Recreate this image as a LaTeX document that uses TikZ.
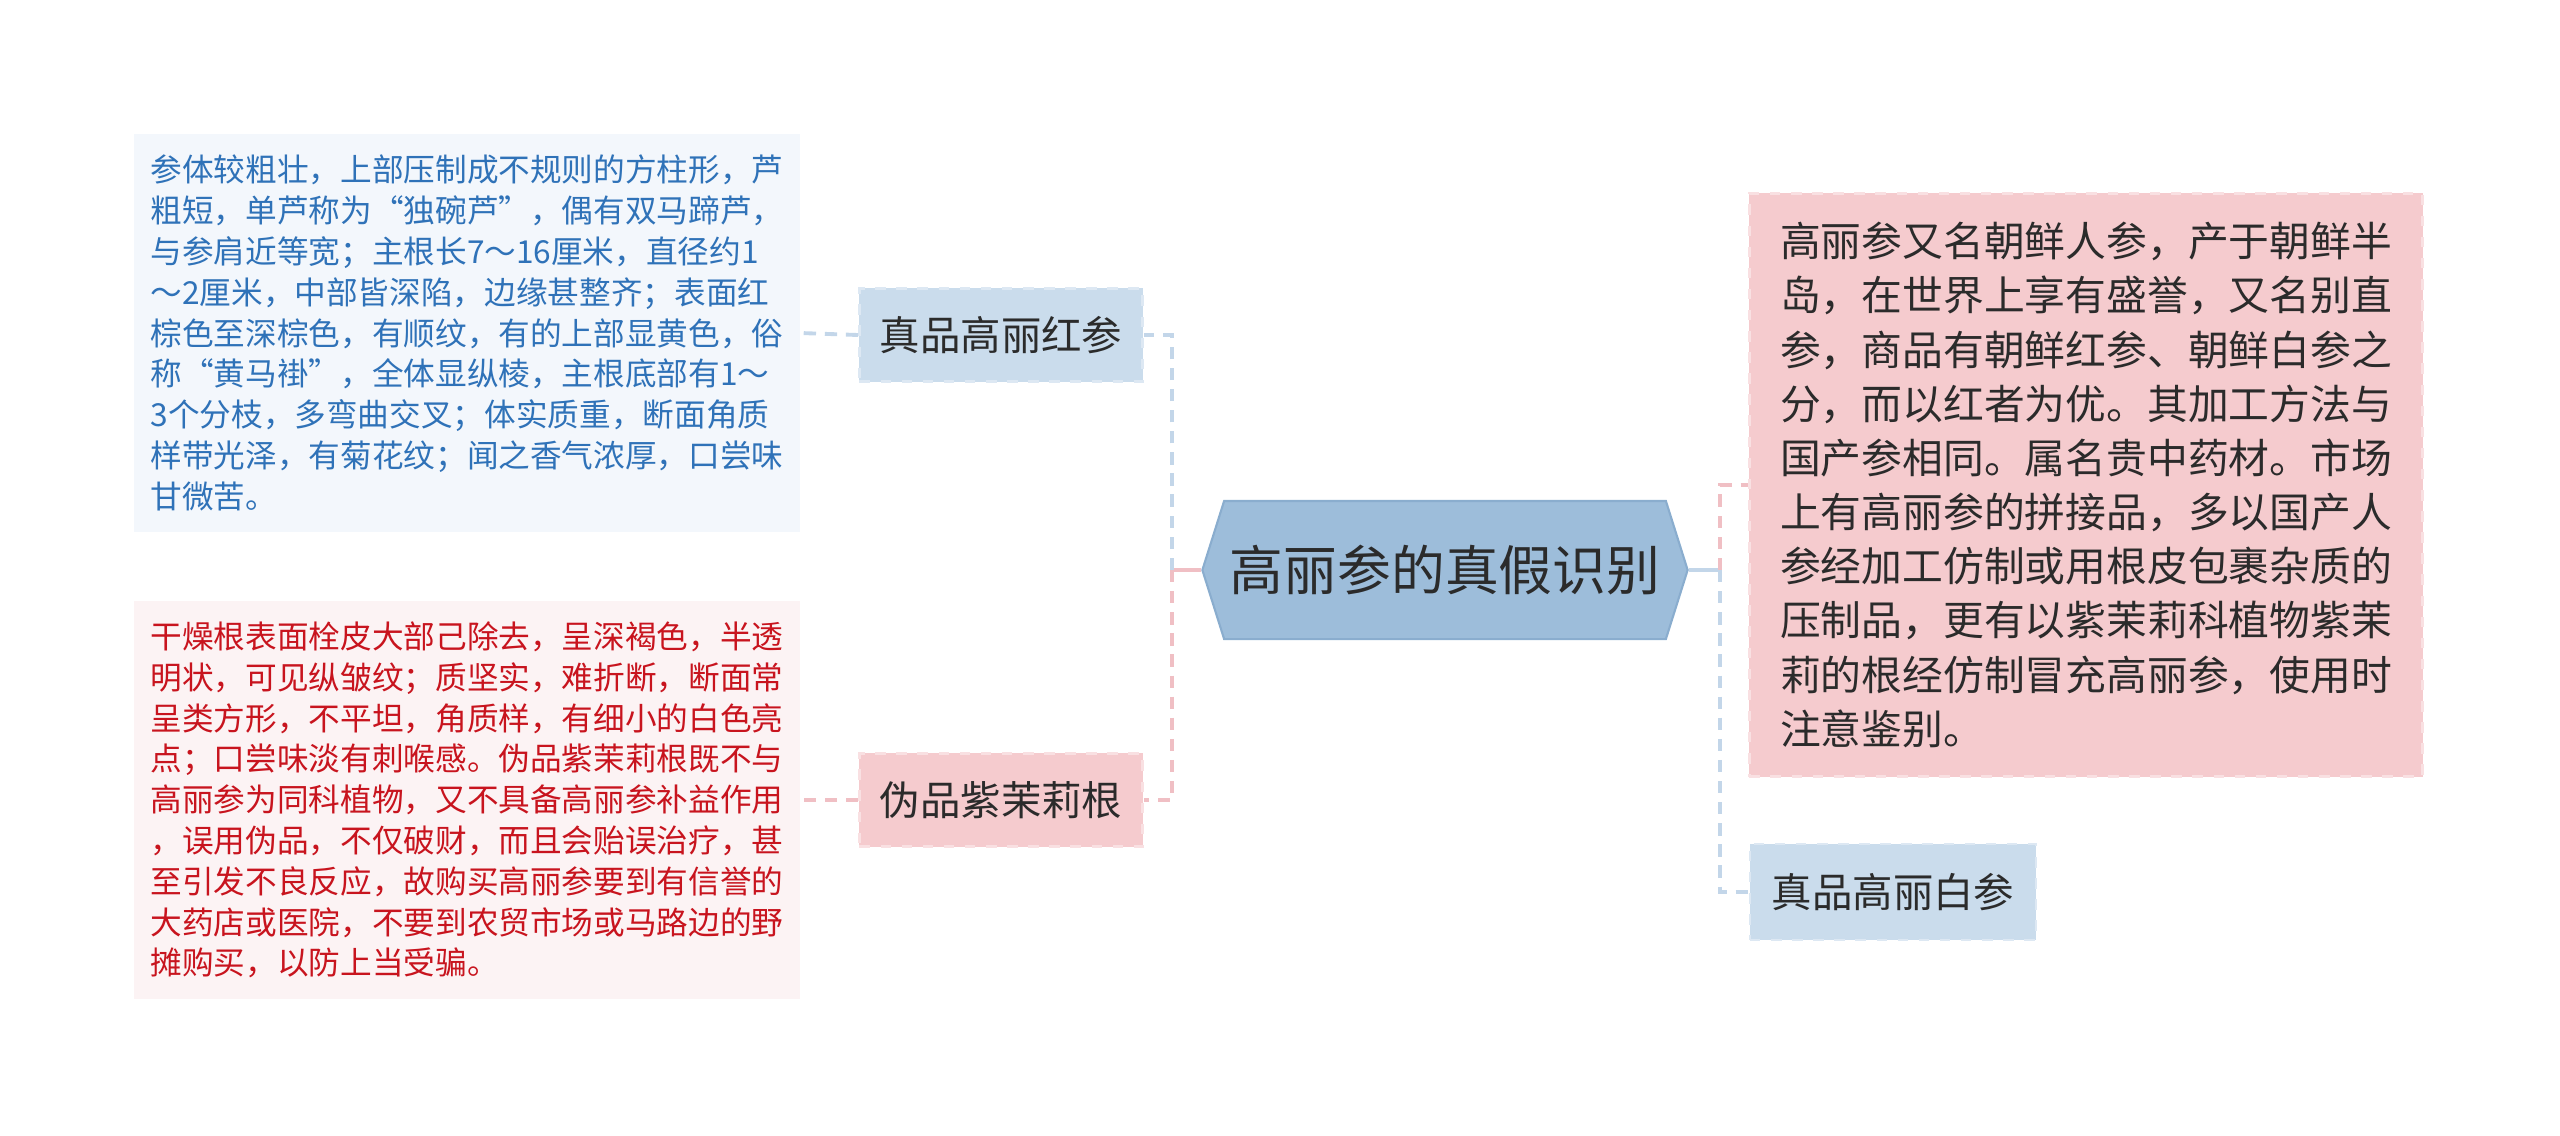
\documentclass[tikz,border=0pt]{standalone}
\usepackage{fontspec}
\setmainfont{Noto Sans CJK SC}
\usepackage{xcolor}
\usetikzlibrary{shapes.symbols}
\definecolor{rootfill}{HTML}{9DBDDA}
\definecolor{rootline}{HTML}{8AADCE}
\definecolor{bluefill}{HTML}{CADCEC}
\definecolor{blueline}{HTML}{DDE8F3}
\definecolor{pinkfill}{HTML}{F5CBCE}
\definecolor{pinkline}{HTML}{F9E0E2}
\definecolor{ltblue}{HTML}{F3F7FC}
\definecolor{ltpink}{HTML}{FCF3F4}
\definecolor{bluetext}{HTML}{2F72B8}
\definecolor{redtext}{HTML}{C8141E}
\definecolor{textdark}{HTML}{2B2B2B}
\definecolor{linkblue}{HTML}{C3D6E9}
\definecolor{linkpink}{HTML}{F0BFC4}

\begin{document}
\begin{tikzpicture}[x=0.01cm,y=-0.01cm,
  zhuti/.style={signal,signal to=west and east,signal pointer angle=145,
    fill=rootfill,draw=rootline,line width=0.6pt,inner sep=0pt,
    minimum width=4.85cm,minimum height=1.38cm,text=textdark,
    font=\fontsize{15.3pt}{18pt}\selectfont},
  fenzhi/.style={rectangle,dashed,line width=0.7pt,inner sep=0pt,
    minimum width=2.83cm,minimum height=0.93cm,text=textdark,
    font=\fontsize{11.5pt}{14pt}\selectfont},
  lanfz/.style={fenzhi,fill=bluefill,draw=blueline},
  fenfz/.style={fenzhi,fill=pinkfill,draw=pinkline},
  wenben/.style={rectangle,align=left,inner sep=0pt,
    minimum width=6.65cm,minimum height=3.97cm,
    font=\fontsize{9pt}{11.6pt}\selectfont},
  xulan/.style={draw=linkblue,line width=1.1pt,dash pattern=on 3.5pt off 2.5pt},
  xufen/.style={draw=linkpink,line width=1.1pt,dash pattern=on 3.5pt off 2.5pt},
  lianlan/.style={draw=linkblue,line width=1.1pt},
  lianfen/.style={draw=linkpink,line width=1.1pt}]
\useasboundingbox (0,0) rectangle (2560,1135);
% 节点定义
\node[zhuti] (root) at (1445,570) {高丽参的真假识别};
\node[lanfz] (hongshen) at (1001,335) {真品高丽红参};
\node[fenfz] (weipin) at (1001,800) {伪品紫茉莉根};
\node[wenben,fill=ltblue,text=bluetext] (hongtext) at (467,333) {参体较粗壮，上部压制成不规则的方柱形，芦\\粗短，单芦称为“独碗芦”，偶有双马蹄芦，\\与参肩近等宽；主根长7～16厘米，直径约1\\～2厘米，中部皆深陷，边缘甚整齐；表面红\\棕色至深棕色，有顺纹，有的上部显黄色，俗\\称“黄马褂”，全体显纵棱，主根底部有1～\\3个分枝，多弯曲交叉；体实质重，断面角质\\样带光泽，有菊花纹；闻之香气浓厚，口尝味\\甘微苦。};
\node[wenben,fill=ltpink,text=redtext] (weitext) at (467,800) {干燥根表面栓皮大部己除去，呈深褐色，半透\\明状，可见纵皱纹；质坚实，难折断，断面常\\呈类方形，不平坦，角质样，有细小的白色亮\\点；口尝味淡有刺喉感。伪品紫茉莉根既不与\\高丽参为同科植物，又不具备高丽参补益作用\\，误用伪品，不仅破财，而且会贻误治疗，甚\\至引发不良反应，故购买高丽参要到有信誉的\\大药店或医院，不要到农贸市场或马路边的野\\摊购买，以防上当受骗。};
\node[fenfz,align=left,minimum width=6.73cm,minimum height=5.83cm,
  font=\fontsize{11.6pt}{15.4pt}\selectfont] (jieshao) at (2086,485) {高丽参又名朝鲜人参，产于朝鲜半\\岛，在世界上享有盛誉，又名别直\\参，商品有朝鲜红参、朝鲜白参之\\分，而以红者为优。其加工方法与\\国产参相同。属名贵中药材。市场\\上有高丽参的拼接品，多以国产人\\参经加工仿制或用根皮包裹杂质的\\压制品，更有以紫茉莉科植物紫茉\\莉的根经仿制冒充高丽参，使用时\\注意鉴别。};
\node[lanfz,minimum width=2.86cm,minimum height=0.96cm] (baishen) at (1893,892) {真品高丽白参};
\coordinate (jl) at (1172,570);
\coordinate (jr) at (1720,570);
% 连线
\draw[lianfen] (root.west) -- (jl);
\draw[xulan] (jl) |- (hongshen.east);
\draw[xufen] (jl) |- (weipin.east);
\draw[xulan] (hongshen.west) -- (hongtext.east);
\draw[xufen] (weipin.west) -- (weitext.east);
\draw[lianlan] (root.east) -- (jr);
\draw[xufen] (jr) |- (jieshao.west);
\draw[xulan] (jr) |- (baishen.west);
\end{tikzpicture}
\end{document}
